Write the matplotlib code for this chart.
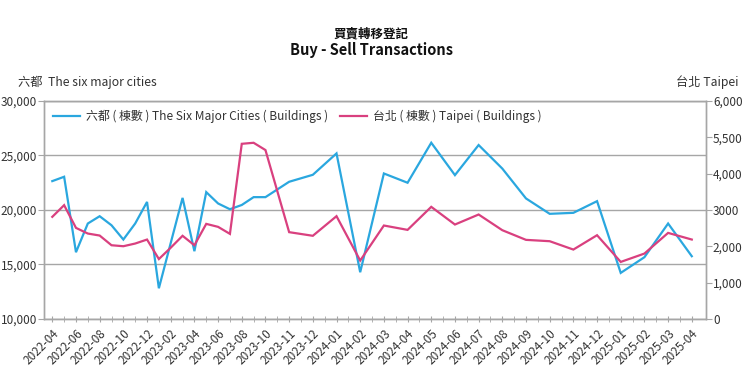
import matplotlib
matplotlib.use("Agg")
import matplotlib.pyplot as plt
from matplotlib.ticker import FixedLocator, FixedFormatter

plt.rcParams['font.family'] = ['Noto Sans CJK TC', 'DejaVu Sans']

months = ["2022-04", "2022-05", "2022-06", "2022-07", "2022-08", "2022-09", "2022-10",
          "2022-11", "2022-12", "2023-01", "2023-02", "2023-03", "2023-04", "2023-05",
          "2023-06", "2023-07", "2023-08", "2023-09", "2023-10", "2023-11", "2023-12",
          "2024-01", "2024-02", "2024-03", "2024-04", "2024-05", "2024-06", "2024-07",
          "2024-08", "2024-09", "2024-10", "2024-11", "2024-12", "2025-01", "2025-02",
          "2025-03", "2025-04"]

six_cities = [22650, 23050, 16125, 18760, 19430, 18600, 17290, 18760, 20740, 12820,
              16970, 21110, 16220, 21640, 20600, 20070, 20460, 21180, 21180, 22590,
              23230, 25190, 14290, 23350, 22500, 26170, 23200, 25960, 23800, 21060,
              19650, 19740, 20810, 14230, 15670, 18760, 15760]

taipei = [2812, 3133, 2508, 2352, 2297, 2030, 2003, 2077, 2187, 1650, 1962, 2290,
          2030, 2618, 2536, 2343, 4822, 4850, 4650, 2390, 2290, 2830, 1608, 2573,
          2453, 3087, 2600, 2876, 2444, 2178, 2141, 1911, 2306, 1571, 1801, 2370, 2187]

x_labels = ["2022-04", "2022-06", "2022-08", "2022-10", "2022-12", "2023-02", "2023-04",
            "2023-06", "2023-08", "2023-10", "2023-11", "2023-12", "2024-01", "2024-02",
            "2024-03", "2024-04", "2024-05", "2024-06", "2024-07", "2024-08", "2024-09",
            "2024-10", "2024-11", "2024-12", "2025-01", "2025-02", "2025-03", "2025-04"]

left_ticks = [10000, 15000, 20000, 25000, 30000]
left_tick_labels = ["10,000", "15,000", "20,000", "25,000", "30,000"]
right_ticks = [0, 1000, 2000, 3000, 4000, 5000, 6000]
right_tick_labels = ["0", "1,000", "2,000", "3000", "4,000", "5,500", "6,000"]

# category slots: monthly slots until 2023-10, then each month spans two slots
split = months.index("2023-10")
pos = [i if i <= split else split + 2 * (i - split) for i in range(len(months))]
label_pos = [pos[months.index(m)] for m in x_labels]

BLUE = "#2aa7df"
PINK = "#d9407f"
GRID = "#a6a6a6"
TXT = "#333333"

fig = plt.figure(figsize=(7.43, 3.80), dpi=100)
ax = fig.add_axes([44 / 743, 1 - 319 / 380, (706 - 44) / 743, (319 - 101) / 380])
ax2 = ax.twinx()

l1, = ax.plot(pos, six_cities, color=BLUE, lw=1.6, solid_joinstyle='miter')
l2, = ax2.plot(pos, taipei, color=PINK, lw=1.6, solid_joinstyle='miter')

ax.set_xlim(-0.7, 55.2)
ax.set_ylim(10000, 30000)
ax2.set_ylim(0, 6000)

ax.yaxis.set_major_locator(FixedLocator(left_ticks))
ax.yaxis.set_major_formatter(FixedFormatter(left_tick_labels))
ax2.yaxis.set_major_locator(FixedLocator(right_ticks))
ax2.yaxis.set_major_formatter(FixedFormatter(right_tick_labels))

ax.set_xticks(label_pos)
ax.set_xticklabels(x_labels, rotation=45, ha='right', rotation_mode='anchor',
                   fontsize=8.5, color=TXT)
ax.set_xticks(range(0, 55), minor=True)
ax.tick_params(axis='x', which='both', length=5, color=GRID, direction='inout', pad=3)

ax.tick_params(axis='y', length=4, color=GRID, labelsize=8.5, labelcolor=TXT, pad=1)
ax2.tick_params(axis='y', length=4, color=GRID, labelsize=8.5, labelcolor=TXT, pad=1)

ax.grid(axis='y', color=GRID, lw=1)
ax.set_axisbelow(True)
for a in (ax, ax2):
    for s in a.spines.values():
        s.set_color(GRID)
        s.set_linewidth(1)

ax2.set_zorder(ax.get_zorder() + 1)
ax2.patch.set_visible(False)
ax2.legend([l1, l2], ["六都 ( 棟數 ) The Six Major Cities ( Buildings )",
                      "台北 ( 棟數 ) Taipei ( Buildings )"],
           loc='upper left', bbox_to_anchor=(0.0, 1.0), ncol=2, frameon=False,
           fontsize=8.6, labelcolor=TXT, handlelength=2.3, handletextpad=0.45,
           columnspacing=1.0, borderaxespad=0.35)

fig.text(0.5, 1 - 34 / 380, "買賣轉移登記", ha='center', va='center', fontsize=9,
         fontweight='bold', color='#111111')
fig.text(0.5, 1 - 50 / 380, "Buy - Sell Transactions", ha='center', va='center',
         fontsize=10.5, fontweight='bold', color='#111111')
fig.text(18 / 743, 1 - 82 / 380, "六都  The six major cities", ha='left', va='center',
         fontsize=8.8, color=TXT)
fig.text(738 / 743, 1 - 82 / 380, "台北 Taipei", ha='right', va='center',
         fontsize=8.8, color=TXT)

fig.savefig("out.png", dpi=100)
